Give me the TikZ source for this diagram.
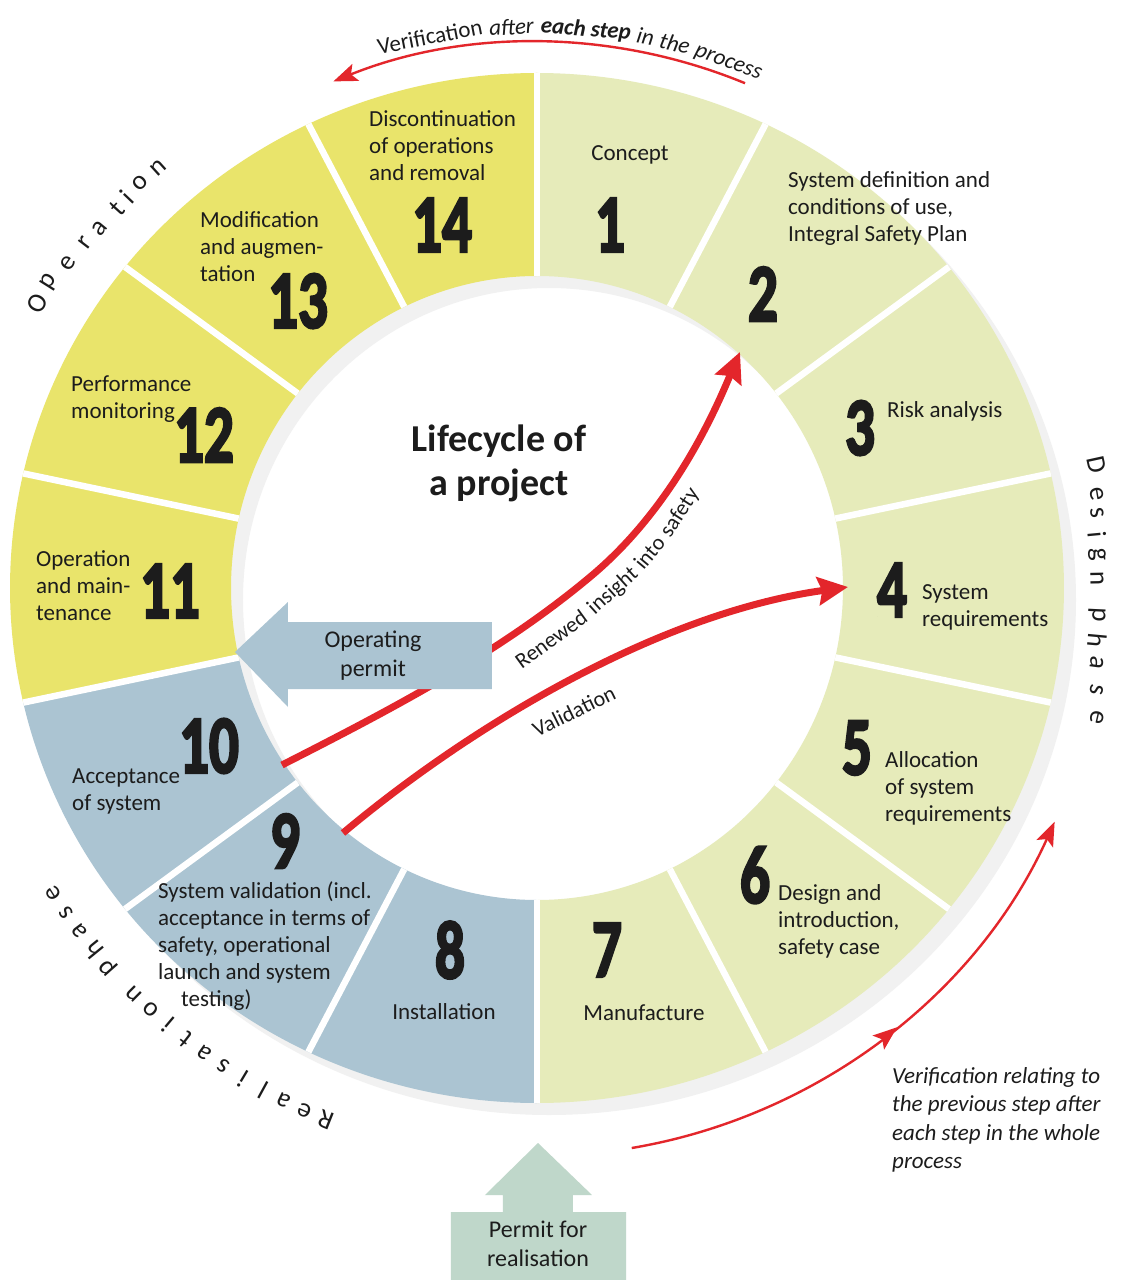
\documentclass[tikz,border=0pt]{standalone}
\usepackage{fontspec}
\setmainfont{Carlito}
\newfontfamily\numfont[FakeBold=3.5]{Carlito}
\usepackage{graphicx}
\usetikzlibrary{arrows.meta,decorations.markings}
\definecolor{designc}{HTML}{E6EBBA}
\definecolor{operc}{HTML}{E9E46B}
\definecolor{realc}{HTML}{ABC4D2}
\definecolor{permitc}{HTML}{BFD7CA}
\definecolor{redc}{HTML}{E3262B}
\definecolor{ringc}{HTML}{F1F1F1}
\definecolor{txtc}{HTML}{1C1C1C}
\newcommand{\segfont}{\fontsize{23}{27}\selectfont}
\newcommand{\arrfont}{\fontsize{24}{29}\selectfont}
\newcommand{\topfont}{\fontsize{23}{23}\selectfont}
\newcommand{\smallfont}{\fontsize{22}{22}\selectfont}
\newcommand{\ml}[1]{\begin{tabular}[t]{@{}l@{}}#1\end{tabular}}
\newcommand{\mc}[1]{\begin{tabular}[t]{@{}c@{}}#1\end{tabular}}
\newcommand{\bignum}[1]{\scalebox{0.72}[1]{\numfont\bfseries\fontsize{82}{82}\selectfont #1}}
\tikzset{
  seglbl/.style={anchor=base west, inner sep=0pt, font=\segfont, text=txtc},
  seglblc/.style={anchor=base, inner sep=0pt, font=\segfont, text=txtc},
  numlbl/.style={inner sep=0pt, text=txtc},
  phaselbl/.style={inner sep=0pt, font=\fontsize{27}{27}\selectfont, text=txtc},
  topword/.style={anchor=base, inner sep=0pt, font=\topfont, text=txtc},
  arrword/.style={anchor=base, inner sep=0pt, font=\smallfont, text=txtc},
  bigarrow/.style={redc, line width=7pt, -{Stealth[length=30pt,width=28pt,inset=4pt]}},
  thinarrow/.style={redc, line width=2.4pt, -{Stealth[length=24pt,width=18pt,inset=5pt]}},
}
\begin{document}
\begin{tikzpicture}[x=1pt,y=1pt]
\useasboundingbox (-537,-692) rectangle (585,588);
\fill[white] (-537,-692) rectangle (585,588);
% shadow ring
\fill[ringc, even odd rule, shift={(12,-12)}] (0,0) ellipse[x radius=527pt, y radius=515pt] (0,0) ellipse[x radius=306pt, y radius=312pt];
% segments
\foreach \i/\col in {1/designc,2/designc,3/designc,4/designc,5/designc,6/designc,7/designc,8/realc,9/realc,10/realc,11/operc,12/operc,13/operc,14/operc} {
  \pgfmathsetmacro\sa{90-(\i-1)*360/14}
  \pgfmathsetmacro\ea{90-\i*360/14}
  \fill[\col] (\sa:527pt and 515pt) arc[start angle=\sa, end angle=\ea, x radius=527pt, y radius=515pt] -- (\ea:306pt and 312pt) arc[start angle=\ea, end angle=\sa, x radius=306pt, y radius=312pt] -- cycle;
}
\foreach \k in {0,...,13} {
  \pgfmathsetmacro\ga{90-\k*360/14}
  \draw[white, line width=6.5pt] (\ga:306pt and 312pt) -- (\ga:527pt and 515pt);
}
% inner red arrows
\coordinate (r10) at (-255,-177);
\coordinate (rmid) at (53,11);
\coordinate (r2) at (203,236);
\coordinate (v9) at (-194,-245);
\coordinate (v4) at (311,1);
\draw[bigarrow] (r10) .. controls (-148,-122.5) and (-39,-66) .. (rmid) .. controls (137.6,81.3) and (179.6,181) .. (r2);
\draw[bigarrow] (v9) .. controls (-64,-136) and (123,-25) .. (v4);
\node[arrword, rotate=36] (rw1) at (18.5,-57.2) {Renewed};
\node[arrword, rotate=42] (rw2) at (80,-7.5) {insight};
\node[arrword, rotate=50] (rw3) at (118,30.5) {into};
\node[arrword, rotate=57] (rw4) at (148,72) {safety};
\node[inner sep=0pt, font=\smallfont, text=txtc, rotate=26] (val) at (37,-123) {Validation};
% operating permit arrow
\fill[realc] (-302,-64) -- (-249,-14) -- (-249,-34) -- (-45,-34) -- (-45,-101) -- (-249,-101) -- (-249,-119) -- cycle;
\node[inner sep=0pt, font=\arrfont, text=txtc] (opermit) at (-164,-68) {\mc{Operating\\permit}};
% permit for realisation arrow
\fill[permitc] (1,-555) -- (55,-607) -- (36,-607) -- (36,-624) -- (89,-624) -- (89,-692) -- (-86,-692) -- (-86,-624) -- (-34,-624) -- (-34,-607) -- (-52,-607) -- cycle;
\node[inner sep=0pt, font=\arrfont, text=txtc] (rpermit) at (1,-658) {\mc{Permit for\\realisation}};
% title
\node[anchor=base, inner sep=0pt, font=\fontsize{38}{44}\selectfont\bfseries, text=txtc] (title) at (-38,136) {\mc{Lifecycle of\\a project}};
% numbers
\node[numlbl] (n1) at (73,363) {\bignum{1}};
\node[numlbl] (n2) at (226,294) {\bignum{2}};
\node[numlbl] (n3) at (323,160) {\bignum{3}};
\node[numlbl] (n4) at (355,-2) {\bignum{4}};
\node[numlbl] (n5) at (320,-160) {\bignum{5}};
\node[numlbl] (n6) at (218,-287) {\bignum{6}};
\node[numlbl] (n7) at (70,-362) {\bignum{7}};
\node[numlbl] (n8) at (-87,-362) {\bignum{8}};
\node[numlbl] (n9) at (-252,-253) {\bignum{9}};
\node[numlbl] (n10) at (-328,-158) {\bignum{10}};
\node[numlbl] (n11) at (-367,-3) {\bignum{11}};
\node[numlbl] (n12) at (-333,153) {\bignum{12}};
\node[numlbl] (n13) at (-239,287) {\bignum{13}};
\node[numlbl] (n14) at (-95,363) {\bignum{14}};
% segment labels
\node[seglblc] (t1) at (93,427) {Concept};
\node[seglbl] (t2) at (251,400) {\ml{System definition and\\conditions of use,\\Integral Safety Plan}};
\node[seglbl] (t3) at (350,170) {Risk analysis};
\node[seglbl] (t4) at (385,-11) {\ml{System\\requirements}};
\node[seglbl] (t5) at (348,-179) {\ml{Allocation\\of system\\requirements}};
\node[seglbl] (t6) at (241,-312) {\ml{Design and\\introduction,\\safety case}};
\node[seglblc] (t7) at (107,-432) {Manufacture};
\node[seglblc] (t8) at (-93,-431) {Installation};
\node[seglbl] (t9) at (-379,-310) {\ml{System validation (incl.\\acceptance in terms of\\safety, operational\\launch and system\\\hspace{23pt}testing)}};
\node[seglbl] (t10) at (-465,-195) {\ml{Acceptance\\of system}};
\node[seglbl] (t11) at (-501,22) {\ml{Operation\\and main-\\tenance}};
\node[seglbl] (t12) at (-466,196) {\ml{Performance\\monitoring}};
\node[seglbl] (t13) at (-337,360) {\ml{Modification\\and augmen-\\tation}};
\node[seglbl] (t14) at (-168,461) {\ml{Discontinuation\\of operations\\and removal}};
% top verification arrow
\coordinate (tva) at (67.6:546);
\draw[thinarrow] (tva) arc[start angle=67.6, end angle=111.9, radius=546pt];
\foreach \a/\w [count=\c] in {101.0/Verification,92.6/{\itshape after},85.0/{\bfseries\itshape each step},78.85/{\itshape in},75.8/{\itshape the},70.0/{\itshape process}} {
  \node[topword, rotate=\a-90] (tw\c) at (\a:554) {\w};
}
% bottom right verification arrow
\coordinate (bva) at (-80.4:568);
\draw[thinarrow, postaction={decorate}, decoration={markings, mark=at position 0.53 with {\arrow{Stealth[length=24pt,width=18pt,inset=5pt]}}}] (bva) arc[start angle=-80.4, end angle=-24.3, radius=568pt];
\node[anchor=base west, inner sep=0pt, font=\fontsize{23}{28.5}\selectfont\itshape, text=txtc] (vnote) at (355,-495) {\ml{Verification relating to\\the previous step after\\each step in the whole\\process}};
% phase labels
\foreach \x/\y/\l [count=\c] in {-500/285/O,-487/306/p,-469/325/e,-452/345/r,-437/360/a,-420/380/t,-410/391/i,-397/405/o,-379/420/n} {
  \pgfmathsetmacro\th{atan2(\y,\x)}
  \node[phaselbl, rotate=\th-90] (op\c) at (\x,\y) {\l};
}
\foreach \y/\l [count=\c] in {123/D,94/e,75/s,53/i,33/g,10/n,-27/p,-52/h,-75/a,-102/s,-129/e} {
  \pgfmathsetmacro\th{atan2(\y,560)}
  \node[phaselbl, rotate=\th-90] (dp\c) at (560,\y) {\l};
}
\foreach \s/\l [count=\c] in {0/R,1/e,2/a,3/l,4/i,5/s,6/a,7/t,8/i,9/o,10/n,11.6/p,12.6/h,13.6/a,14.6/s,15.6/e} {
  \pgfmathsetmacro\th{248.3-\s*2.31}
  \node[phaselbl, rotate=\th-90] (rp\c) at (\th:572) {\l};
}
\end{tikzpicture}
\end{document}
